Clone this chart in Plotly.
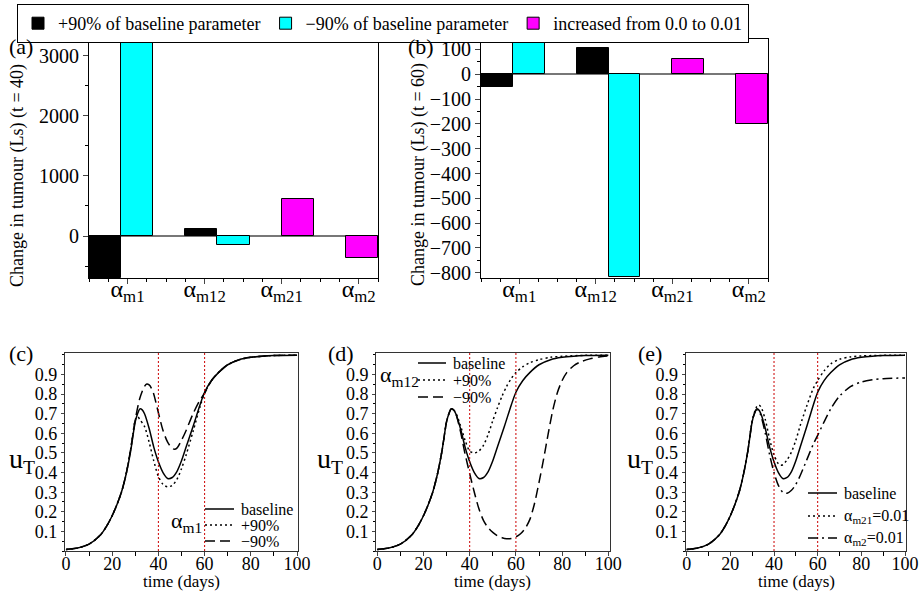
import plotly.graph_objects as go

W, H = 920, 593
FONT = "Liberation Serif, Times New Roman, serif"

# ---------------- data: bar panels ----------------
params = ["α<sub>m1</sub>", "α<sub>m12</sub>", "α<sub>m21</sub>", "α<sub>m2</sub>"]
series_names = ["+90% of baseline parameter", "−90% of baseline parameter",
                "increased from 0.0 to 0.01"]
plus90_t40 = [-700, 110, None, None]
minus90_t40 = [3250, -150, None, None]
incr_t40 = [None, None, 610, -370]
plus90_t60 = [-50, 105, None, None]
minus90_t60 = [135, -818, None, None]
incr_t60 = [None, None, 62, -202]

# ---------------- data: time courses ----------------
t_base = [0, 5, 10, 15, 18, 20, 22, 24, 26, 28, 30, 31, 32, 33, 34, 36, 38, 40, 42, 44, 46, 48,
          50, 52, 55, 58, 60, 63, 66, 70, 75, 80, 85, 90, 100]
u_base = [0.008, 0.015, 0.035, 0.083, 0.135, 0.18, 0.235, 0.30, 0.39, 0.51, 0.66, 0.70, 0.725,
          0.72, 0.70, 0.625, 0.53, 0.455, 0.40, 0.37, 0.375, 0.405, 0.46, 0.53, 0.635, 0.745,
          0.81, 0.87, 0.91, 0.95, 0.976, 0.988, 0.994, 0.997, 0.999]

t_c_plus = [0, 5, 10, 15, 18, 20, 22, 24, 26, 28, 29, 30, 31, 32, 34, 36, 38, 40, 42, 44, 46, 48,
            50, 52, 55, 58, 60, 63, 66, 70, 75, 80, 90, 100]
u_c_plus = [0.008, 0.015, 0.035, 0.083, 0.135, 0.18, 0.235, 0.30, 0.39, 0.52, 0.60, 0.67, 0.685,
            0.67, 0.635, 0.555, 0.46, 0.38, 0.34, 0.327, 0.335, 0.365, 0.42, 0.49, 0.61, 0.735,
            0.805, 0.87, 0.91, 0.95, 0.976, 0.988, 0.997, 0.999]

t_c_minus = [0, 5, 10, 15, 18, 20, 22, 24, 26, 28, 30, 32, 34, 35, 36, 37, 38, 40, 42, 44, 46, 47,
             48, 50, 52, 55, 58, 60, 63, 66, 70, 75, 80, 90, 100]
u_c_minus = [0.008, 0.015, 0.035, 0.083, 0.135, 0.18, 0.235, 0.30, 0.39, 0.52, 0.67, 0.78, 0.84,
             0.852, 0.847, 0.83, 0.80, 0.705, 0.615, 0.555, 0.523, 0.519, 0.525, 0.565, 0.615,
             0.70, 0.77, 0.805, 0.87, 0.91, 0.95, 0.976, 0.988, 0.997, 0.999]

t_d_plus = [0, 5, 10, 15, 18, 20, 22, 24, 26, 28, 30, 31, 32, 33, 34, 36, 38, 40, 42, 44, 46, 48,
            50, 52, 54, 56, 58, 60, 63, 66, 70, 75, 80, 90, 100]
u_d_plus = [0.008, 0.015, 0.035, 0.083, 0.135, 0.18, 0.235, 0.30, 0.39, 0.51, 0.66, 0.70, 0.725,
            0.72, 0.705, 0.64, 0.565, 0.51, 0.50, 0.51, 0.54, 0.595, 0.665, 0.73, 0.79, 0.84,
            0.88, 0.91, 0.94, 0.96, 0.976, 0.988, 0.993, 0.998, 0.999]

t_d_minus = [0, 5, 10, 15, 18, 20, 22, 24, 26, 28, 30, 31, 32, 33, 34, 36, 38, 40, 42, 44, 46, 48,
             50, 52, 54, 56, 58, 60, 62, 64, 66, 68, 70, 72, 74, 76, 78, 80, 82, 85, 88, 92, 96,
             100]
u_d_minus = [0.008, 0.015, 0.035, 0.083, 0.135, 0.18, 0.235, 0.30, 0.39, 0.51, 0.66, 0.70, 0.725,
             0.72, 0.70, 0.61, 0.495, 0.395, 0.30, 0.215, 0.155, 0.118, 0.095, 0.078, 0.068,
             0.063, 0.064, 0.072, 0.088, 0.115, 0.16, 0.24, 0.35, 0.47, 0.60, 0.72, 0.81, 0.87,
             0.91, 0.945, 0.965, 0.98, 0.99, 0.995]

t_e_m21 = [0, 5, 10, 15, 18, 20, 22, 24, 26, 28, 30, 32, 33, 34, 36, 38, 40, 42, 43, 44, 46, 48,
           50, 52, 55, 58, 60, 63, 66, 70, 75, 80, 90, 100]
u_e_m21 = [0.008, 0.015, 0.035, 0.083, 0.135, 0.18, 0.235, 0.30, 0.39, 0.51, 0.665, 0.735, 0.745,
           0.735, 0.67, 0.57, 0.49, 0.445, 0.438, 0.44, 0.465, 0.505, 0.565, 0.64, 0.74, 0.83,
           0.87, 0.92, 0.955, 0.978, 0.99, 0.995, 0.998, 0.999]

t_e_m2 = [0, 5, 10, 15, 18, 20, 22, 24, 26, 28, 30, 31, 32, 33, 34, 36, 38, 40, 42, 44, 46, 48,
          50, 52, 55, 58, 60, 63, 66, 70, 75, 80, 85, 90, 100]
u_e_m2 = [0.008, 0.015, 0.035, 0.083, 0.135, 0.18, 0.235, 0.30, 0.39, 0.51, 0.66, 0.70, 0.72,
          0.715, 0.69, 0.60, 0.49, 0.40, 0.335, 0.30, 0.295, 0.31, 0.34, 0.385, 0.465, 0.545,
          0.59, 0.66, 0.725, 0.79, 0.838, 0.862, 0.873, 0.879, 0.883]

marker_days = [40, 60]
x_ticks = [0, 20, 40, 60, 80, 100]
u_ticks = [0.1, 0.2, 0.3, 0.4, 0.5, 0.6, 0.7, 0.8, 0.9]

# ---------------- layout helpers ----------------
def xd(a, b):
    return [a / W, b / W]

def yd(top, bottom):
    return [1 - bottom / H, 1 - top / H]

BAR_COLORS = ["#000000", "#00FFFF", "#FF00FF"]
group_start = [0, 3, 6, 8]       # slot of first bar of each parameter group
series_offset = [0, 1, 0]        # black, cyan, magenta offsets within a group
label_pos = [0.7, 3.1, 5.5, 7.9]

fig = go.Figure()

def add_bars(values_list, xa, ya, show):
    for k, (vals, name) in enumerate(zip(values_list, series_names)):
        xs, ys = [], []
        for i, v in enumerate(vals):
            if v is not None:
                xs.append(group_start[i] + series_offset[k])
                ys.append(v)
        fig.add_trace(go.Bar(x=xs, y=ys, width=1, name=name, showlegend=show,
                             marker=dict(color=BAR_COLORS[k], line=dict(color="black", width=1)),
                             xaxis=xa, yaxis=ya, legend="legend"))

add_bars([plus90_t40, minus90_t40, incr_t40], "x", "y", True)
add_bars([plus90_t60, minus90_t60, incr_t60], "x2", "y2", False)

DOT = "2px,3px"
DASH = "10px,5px"
DASHDOT = "10px,4px,2px,4px"

def add_line(t, u, xa, ya, dash):
    fig.add_trace(go.Scatter(x=t, y=u, mode="lines", xaxis=xa, yaxis=ya, showlegend=False,
                             line=dict(color="black", width=1.5, dash=dash, shape="spline",
                                       smoothing=0.8)))

# panel c
add_line(t_base, u_base, "x3", "y3", "solid")
add_line(t_c_plus, u_c_plus, "x3", "y3", DOT)
add_line(t_c_minus, u_c_minus, "x3", "y3", DASH)
# panel d
add_line(t_base, u_base, "x4", "y4", "solid")
add_line(t_d_plus, u_d_plus, "x4", "y4", DOT)
add_line(t_d_minus, u_d_minus, "x4", "y4", DASH)
# panel e
add_line(t_base, u_base, "x5", "y5", "solid")
add_line(t_e_m21, u_e_m21, "x5", "y5", DOT)
add_line(t_e_m2, u_e_m2, "x5", "y5", DASHDOT)

tickfont_bar = dict(family=FONT, size=20, color="black")
tickfont_line = dict(family=FONT, size=18, color="black")

def bar_xaxis(domain, anchor):
    return dict(domain=domain, anchor=anchor, range=[-0.5, 8.5], tickmode="array",
                tickvals=label_pos, ticktext=params, ticks="outside", ticklen=5,
                ticklabelstandoff=-16,
                tickfont=dict(family=FONT, size=24, color="black"),
                minor=dict(tickmode="linear", tick0=-0.5, dtick=0.6, ticks="outside", ticklen=3,
                           tickcolor="black"),
                showline=True, mirror=True, linecolor="black", linewidth=1,
                showgrid=False, zeroline=False, automargin=False, fixedrange=True)

def bar_yaxis(domain, anchor, rng, dtick, mdtick):
    return dict(domain=domain, anchor=anchor, range=rng, dtick=dtick, tick0=0,
                ticks="outside", ticklen=5, tickfont=tickfont_bar,
                minor=dict(dtick=mdtick, tick0=0, ticks="outside", ticklen=3, tickcolor="black"),
                showline=True, mirror=True, linecolor="black", linewidth=1,
                showgrid=False, zeroline=True, zerolinecolor="#777777", zerolinewidth=1.5,
                automargin=False, fixedrange=True)

def line_xaxis(domain, anchor):
    return dict(domain=domain, anchor=anchor, range=[-0.5, 100.5], tickmode="array",
                tickvals=x_ticks, ticks="outside", ticklen=4, tickfont=tickfont_line,
                ticklabelstandoff=-8,
                minor=dict(tickmode="linear", tick0=0, dtick=10, ticks="outside", ticklen=4,
                           tickcolor="black"),
                showline=True, mirror=True, linecolor="#333333", linewidth=1,
                showgrid=False, zeroline=False, automargin=False, fixedrange=True)

def line_yaxis(domain, anchor):
    return dict(domain=domain, anchor=anchor, range=[0, 1.01], tickmode="array",
                tickvals=u_ticks, ticks="outside", ticklen=3, tickfont=tickfont_line,
                minor=dict(tickmode="linear", tick0=0, dtick=0.05, ticks="outside", ticklen=2,
                           tickcolor="black"),
                showline=True, mirror=True, linecolor="#333333", linewidth=1,
                showgrid=False, zeroline=False, automargin=False, fixedrange=True)

BOT = yd(353, 551)
fig.update_layout(
    width=W, height=H, template="none",
    margin=dict(l=0, r=0, t=0, b=0),
    paper_bgcolor="white", plot_bgcolor="white",
    font=dict(family=FONT, color="black"),
    barmode="overlay", bargap=0,
    xaxis=bar_xaxis(xd(89, 378), "y"),
    yaxis=bar_yaxis(yd(39, 278), "x", [-700, 3283], 1000, 500),
    xaxis2=bar_xaxis(xd(481, 768), "y2"),
    yaxis2=bar_yaxis(yd(39, 278), "x2", [-821, 142], 100, 50),
    xaxis3=line_xaxis(xd(64.8, 298.2), "y3"),
    yaxis3=line_yaxis(BOT, "x3"),
    xaxis4=line_xaxis(xd(376.1, 609.5), "y4"),
    yaxis4=line_yaxis(BOT, "x4"),
    xaxis5=line_xaxis(xd(685.6, 906.1), "y5"),
    yaxis5=line_yaxis(BOT, "x5"),
    legend=dict(orientation="h", x=17 / W, y=1 - 4 / H, xanchor="left", yanchor="top",
                bordercolor="black", borderwidth=1, bgcolor="white",
                font=dict(family=FONT, size=18, color="black")),
)

# red dotted reference lines at t = 40, 60 days
for ax in ["3", "4", "5"]:
    for d in marker_days:
        fig.add_shape(type="line", xref="x" + ax, yref="y" + ax + " domain", x0=d, x1=d,
                      y0=0, y1=1, line=dict(color="#cc0000", width=1, dash="2px,2px"))

annots = []
def text(x, y, s, size, xanchor="center", angle=0):
    annots.append(dict(x=x / W, y=1 - y / H, xref="paper", yref="paper", text=s,
                       showarrow=False, xanchor=xanchor, yanchor="middle", textangle=angle,
                       font=dict(family=FONT, size=size, color="black")))

# panel labels
text(21, 47, "(a)", 22)
text(421, 47, "(b)", 22)
text(21, 353, "(c)", 22)
text(341, 353, "(d)", 22)
text(650, 353, "(e)", 22)
# y titles of bar panels
text(17, 176, "Change in tumour (Ls) (t = 40)", 18, angle=-90)
text(419, 175, "Change in tumour (Ls) (t = 60)", 18, angle=-90)
# u_T labels
for xc in [22, 330, 640]:
    text(xc, 460, "u<sub>T</sub>", 28)
# x titles of line panels
for xc in [181.5, 493, 796]:
    text(xc, 581, "time (days)", 17)

# manual in-panel legends
def legend_block(x0, x1, rows, labels, dashes):
    for y, lab, dsh in zip(rows, labels, dashes):
        fig.add_shape(type="line", xref="paper", yref="paper", x0=x0 / W, x1=x1 / W,
                      y0=1 - y / H, y1=1 - y / H, line=dict(color="black", width=1.5, dash=dsh))
        text(x1 + 5, y, lab, 16, xanchor="left")

legend_block(205, 234, [509, 525, 541], ["baseline", "+90%", "−90%"], ["solid", DOT, DASH])
text(186, 522, "α<sub>m1</sub>", 22)
legend_block(418, 446, [363, 380, 397], ["baseline", "+90%", "−90%"], ["solid", DOT, DASH])
text(399, 376, "α<sub>m12</sub>", 22)
legend_block(808, 837, [493, 516, 538], ["baseline", "α<sub>m21</sub>=0.01", "α<sub>m2</sub>=0.01"],
             ["solid", DOT, DASHDOT])

fig.update_layout(annotations=annots)
fig.write_html("out.html")
